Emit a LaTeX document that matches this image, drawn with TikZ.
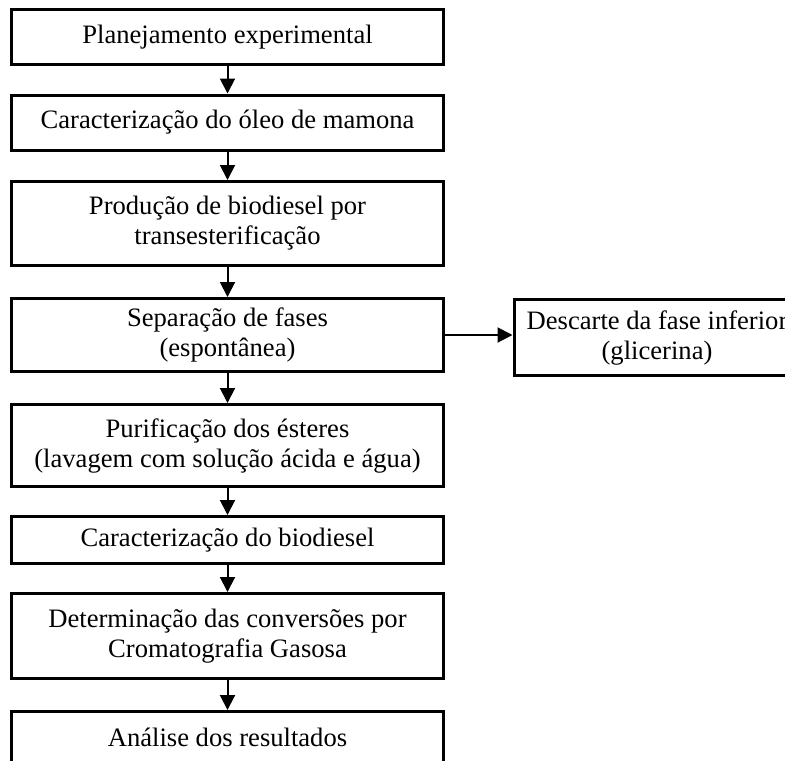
\documentclass[tikz,border=0pt]{standalone}
\usepackage{fontspec}
\setmainfont{Liberation Serif}
\usetikzlibrary{arrows.meta}
\tikzset{
	etapa/.style={draw, line width=1.5pt, minimum width=216pt, inner sep=0pt, align=center, font=\fontsize{13.3}{15}\selectfont},
	seta/.style={line width=1pt, -{Triangle[length=7.5pt,width=7.5pt]}}
}

\begin{document}
\begin{tikzpicture}[x=0.5pt, y=-0.5pt]
		%%%%% START %%%%%
		\useasboundingbox (0, 0) rectangle (785, 760);
		
		\node[etapa, minimum height=27.5pt] (plan) at (227.5, 37) {Planejamento experimental};
		\node[etapa, minimum height=27.5pt] (oleo) at (227.5, 122.5) {Caracterização do óleo de mamona};
		\node[etapa, minimum height=42pt] (prod) at (227.5, 223.5) {Produção de biodiesel por\\transesterificação};
		\node[etapa, minimum height=36.5pt] (sep) at (227.5, 335) {Separação de fases\\(espontânea)};
		\node[etapa, minimum height=41pt] (puri) at (227.5, 445.5) {Purificação dos ésteres\\(lavagem com solução ácida e água)};
		\node[etapa, minimum height=23.5pt] (carac) at (227.5, 540) {Caracterização do biodiesel};
		\node[etapa, minimum height=42.5pt] (conv) at (227.5, 636) {Determinação das conversões por\\Cromatografia Gasosa};
		\node[etapa, minimum height=26pt] (anal) at (227.5, 737.5) {Análise dos resultados};
		
		\node[etapa, minimum width=143pt, minimum height=38pt] (desc) at (657, 337.5) {Descarte da fase inferior\\(glicerina)};
		
		\draw[seta] (plan) -- (oleo);
		\draw[seta] (oleo) -- (prod);
		\draw[seta] (prod) -- (sep);
		\draw[seta] (sep) -- (puri);
		\draw[seta] (puri) -- (carac);
		\draw[seta] (carac) -- (conv);
		\draw[seta] (conv) -- (anal);
		\draw[seta] (sep.east) -- (sep.east -| desc.west);
		%%%%% END %%%%%
	\end{tikzpicture}
\end{document}
